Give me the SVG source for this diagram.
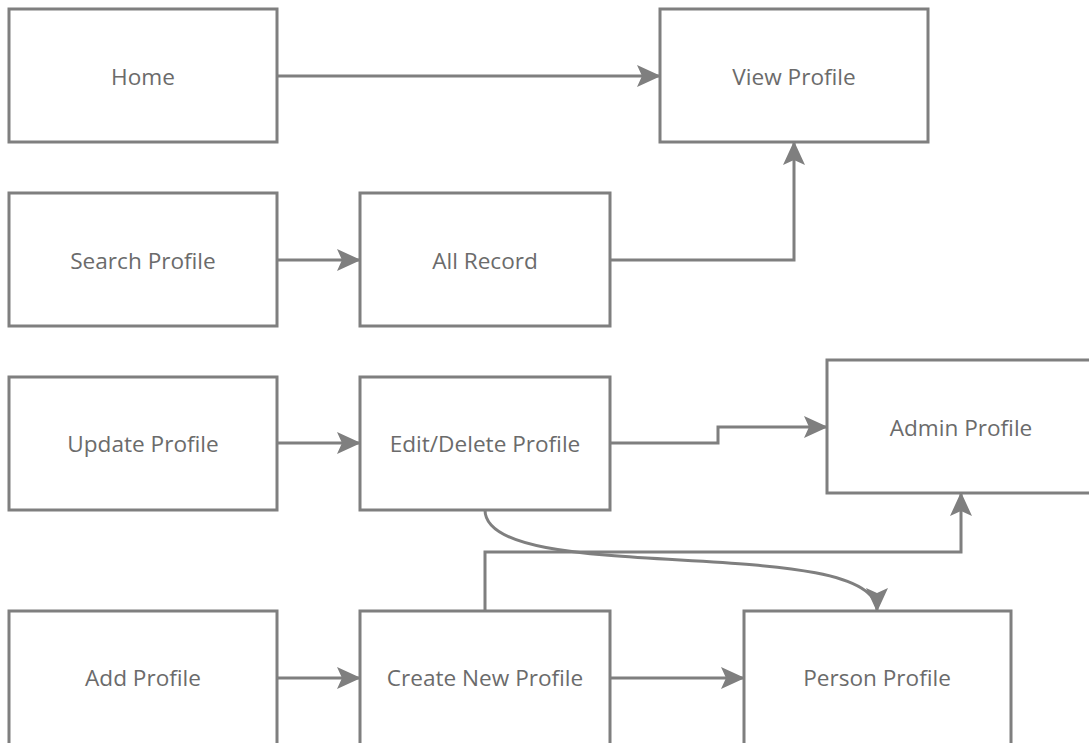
<svg xmlns="http://www.w3.org/2000/svg" width="1089" height="743" viewBox="0 0 1089 743">
<style>
.box{fill:#fff;stroke:#7f7f7f;stroke-width:3}
.lbl{font-family:"Open Sans","Noto Sans",sans-serif;font-size:22.6px;fill:#6b6b6b;text-anchor:middle;dominant-baseline:central}
.edge{fill:none;stroke:#7f7f7f;stroke-width:3}
</style>
<defs>
<marker id="arr" markerUnits="userSpaceOnUse" markerWidth="26" markerHeight="26" viewBox="0 0 26 26" refX="24" refY="13" orient="auto">
<path d="M1,2 L25,13 L1,24 L6,13 z" fill="#7f7f7f"/>
</marker>
</defs>
<rect width="1089" height="743" fill="#fff"/>
<g id="home"><rect class="box" x="9" y="9" width="268" height="133"/><text class="lbl" x="143" y="76">Home</text></g>
<g id="view-profile"><rect class="box" x="660" y="9" width="268" height="133"/><text class="lbl" x="794" y="76">View Profile</text></g>
<g id="search-profile"><rect class="box" x="9" y="193" width="268" height="133"/><text class="lbl" x="143" y="260">Search Profile</text></g>
<g id="all-record"><rect class="box" x="360" y="193" width="250" height="133"/><text class="lbl" x="485" y="260">All Record</text></g>
<g id="update-profile"><rect class="box" x="9" y="377" width="268" height="133"/><text class="lbl" x="143" y="443">Update Profile</text></g>
<g id="edit-delete-profile"><rect class="box" x="360" y="377" width="250" height="133"/><text class="lbl" x="485" y="443">Edit/Delete Profile</text></g>
<g id="admin-profile"><rect class="box" x="827" y="360" width="268" height="133"/><text class="lbl" x="961" y="427">Admin Profile</text></g>
<g id="add-profile"><rect class="box" x="9" y="611" width="268" height="140"/><text class="lbl" x="143" y="677">Add Profile</text></g>
<g id="create-new-profile"><rect class="box" x="360" y="611" width="250" height="140"/><text class="lbl" x="485" y="677">Create New Profile</text></g>
<g id="person-profile"><rect class="box" x="744" y="611" width="267" height="140"/><text class="lbl" x="877" y="677">Person Profile</text></g>
<g id="connectors">
<path class="edge" d="M277,76 L660,76" marker-end="url(#arr)"/>
<path class="edge" d="M277,260 L360,260" marker-end="url(#arr)"/>
<path class="edge" d="M610,260 L794,260 L794,142" marker-end="url(#arr)"/>
<path class="edge" d="M277,443 L360,443" marker-end="url(#arr)"/>
<path class="edge" d="M610,443 L718,443 L718,427 L827,427" marker-end="url(#arr)"/>
<path class="edge" d="M485,611 L485,552 L961,552 L961,493" marker-end="url(#arr)"/>
<path class="edge" d="M485,510 C485,588 877,532 877,611" marker-end="url(#arr)"/>
<path class="edge" d="M277,678 L360,678" marker-end="url(#arr)"/>
<path class="edge" d="M610,678 L744,678" marker-end="url(#arr)"/>
</g>
</svg>
